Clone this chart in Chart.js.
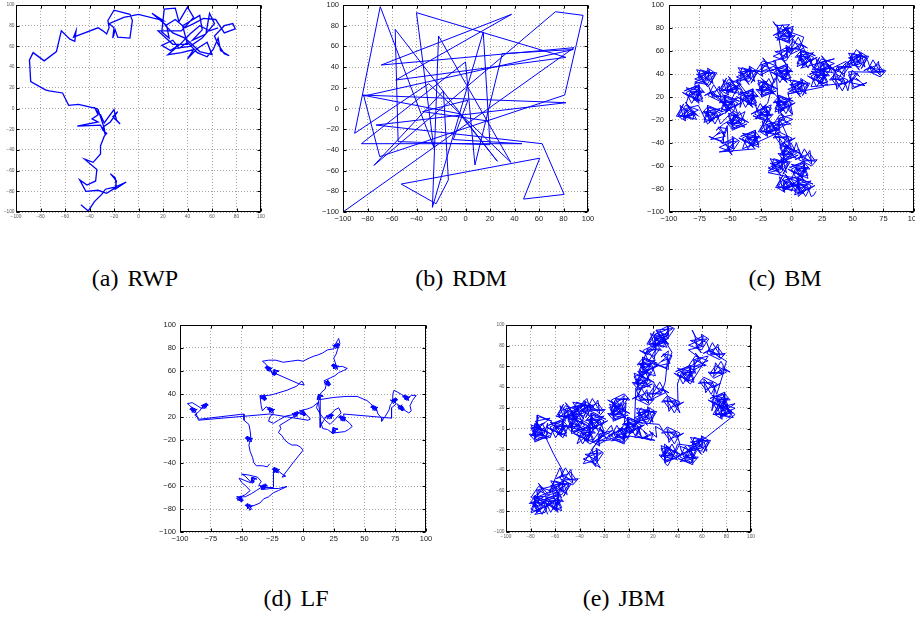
<!DOCTYPE html>
<html><head><meta charset="utf-8">
<script src="https://cdn.jsdelivr.net/npm/chart.js@4.4.0/dist/chart.umd.min.js"></script>
<style>
html,body{margin:0;padding:0;background:#fff;width:915px;height:617px;overflow:hidden;position:relative}
canvas{position:absolute}
.cap{position:absolute;font-family:"Liberation Serif","Times New Roman",serif;font-size:24px;line-height:24px;white-space:nowrap;color:#000;transform:translateX(-50%);word-spacing:3px}
</style></head><body>
<div class="cap" style="left:135px;top:266px">(a) RWP</div>
<div class="cap" style="left:461px;top:266px">(b) RDM</div>
<div class="cap" style="left:785px;top:266px">(c) BM</div>
<div class="cap" style="left:296px;top:586px">(d) LF</div>
<div class="cap" style="left:624px;top:586px">(e) JBM</div>
<script>
// ---------- tick values and labels ----------
const ticks20 = [-100,-80,-60,-40,-20,0,20,40,60,80,100];
const labels20 = ['\u2212100','\u221280','\u221260','\u221240','\u221220','0','20','40','60','80','100'];
const ticks25 = [-100,-75,-50,-25,0,25,50,75,100];
const labels25 = ['\u2212100','\u221275','\u221250','\u221225','0','25','50','75','100'];
const ticksNine = [-100,-77.78,-55.56,-33.33,-11.11,11.11,33.33,55.56,77.78,100];
const labelsNine = ['\u2212100','\u221280','\u221260','\u221240','\u221220','20','40','60','80','100'];

// ---------- (a) RWP ----------
const rwpPath = [
[-47,-93],[-41,-99],[-36,-90],[-30,-83],[-27,-78],[-23,-77],[-19,-76],[-10,-71],[-19,-78],[-18,-70],[-23,-63],[-19,-67],[-18,-76],[-26,-82],[-33,-79],[-43,-80],[-48,-69],[-42,-74],[-35,-70],[-34,-59],[-44,-49],[-37,-52],[-31,-44],[-31,-36],[-28,-27],[-26,-24],[-29,-21],[-31,-16],[-50,-17],[-33,-13],[-38,-10],[-33,-6],[-35,-1],[-31,-6],[-28,-14],[-20,-1],[-18,-11],[-15,-15],[-21,-8],[-17,-3],[-23,-13],[-29,-18],[-27,-26],[-28,-19],[-33,-1],[-34,0],[-49,4],[-57,3],[-62,15],[-73,17],[-76,18],[-88,26],[-89,47],[-86,54],[-77,46],[-67,55],[-63,75],[-56,67],[-52,65],[-51,75],[-53,69],[-33,78],[-29,75],[-26,72],[-24,78],[-25,85],[-20,95],[-7,91],[-5,85],[-7,68],[-17,69],[-19,76],[-21,68],[-20,78],[-24,82],[-12,88],[0,91],[20,85],[11,92],[23,80],[25,68],[19,74],
[21,96],[30,97],[33,84],[40,98],[45,88],[35,75],[16,75],[28,62],[40,62],[36,80],[50,90],[52,76],[44,66],[55,72],[58,92],[62,82],[52,68],[42,60],[30,58],[24,52],[35,54],[45,57],[40,48],[48,58],[56,64],[60,52],[50,55],[38,68],[28,73],[22,80],[30,86],[38,78],[45,82],[53,87],[63,86],[70,73],[79,77],[77,82],[70,80],[62,70],[65,62],[70,53],[74,51],[67,56],[65,68],[61,57],[56,50],[48,54],[40,64],[33,58],[28,66],[19,61],[26,56],[34,62],[42,72],[50,80],[58,75],[65,78]
];

// ---------- (b) RDM ----------
const rdmPath = [
[-100,-100],[88.6,58.8],[-68.8,42],[37.6,91],[-57,27.5],[82,49.4],[-40,92.6],[-26,-37],[-69.6,98.4],[-90.5,-24],[-30,24],[37,-52],[-22,70],[-27,-95.5],[14.5,74],[20,-35],[-55,-32],[-57.4,76.5],[26,-51],[-5,-5],[-84.5,13],[82,5.6],[-73,-16],[62.6,-34],[80.5,-83],[47.4,-87.5],[60.6,-48],[-52.5,-73],[-24,-92],[-14,-69],[-18,17],[-74.8,-55],[73.4,93.5],[96,90],[81,13],[-70,-46.5],[-83,12],[88,57],[30,53],[7.7,-54.6],[0,45],[-85,-34],[46,-34],[-10,-30],[2,8],[-35,-3],[18,-12]
];

// ---------- (c) BM ----------
const bmPath = [
[20,-80],[18,-84],
[16,-85],[13,-74.5],[2.5,-73],[7,-80.5],[19,-74.5],[13,-79],[5.5,-70],[7,-83.5],[13,-73],[1,-74.5],[5.5,-68.5],[16,-74.5],[11.5,-85],[5.5,-73],[14.5,-77.5],[2.5,-83.5],[5.5,-74.5],[10,-82],[2.5,-80.5],[7,-68.5],[17.5,-73],[5.5,-67],[5.5,-77.5],[11.5,-74.5],[8.5,-77.5],[16,-70],[4,-73],[8.5,-82],[11.5,-79],[5.5,-85],
[5,-66],[-5.5,-69],[-7,-79.5],[0.5,-75],[-5.5,-63],[-1,-69],[-10,-76.5],[3.5,-75],[-7,-69],[-5.5,-81],[-11.5,-76.5],[-5.5,-66],[5,-70.5],[-7,-76.5],[-2.5,-67.5],[3.5,-79.5],[-5.5,-76.5],[2,-72],[0.5,-79.5],[-11.5,-75],[-7,-64.5],[-13,-76.5],[-2.5,-76.5],[-5.5,-70.5],[-2.5,-73.5],[-10,-66],[-7,-78],[2,-73.5],[-1,-70.5],[5,-76.5],
[0,-69],[3,-58.5],[13.5,-57],[9,-64.5],[-3,-58.5],[3,-63],[10.5,-54],[9,-67.5],[3,-57],[15,-58.5],[10.5,-52.5],[0,-58.5],[4.5,-69],[10.5,-57],[1.5,-61.5],[13.5,-67.5],[10.5,-58.5],[6,-66],[13.5,-64.5],[9,-52.5],[-1.5,-57],[10.5,-51],[10.5,-61.5],[4.5,-58.5],[7.5,-61.5],[0,-54],[12,-57],[7.5,-66],[4.5,-63],[10.5,-69],
[-19,-62],[-8.5,-59],[-7,-48.5],[-14.5,-53],[-8.5,-65],[-13,-59],[-4,-51.5],[-17.5,-53],[-7,-59],[-8.5,-47],[-2.5,-51.5],[-8.5,-62],[-19,-57.5],[-7,-51.5],[-11.5,-60.5],[-17.5,-48.5],[-8.5,-51.5],[-16,-56],[-14.5,-48.5],[-2.5,-53],[-7,-63.5],[-1,-51.5],[-11.5,-51.5],[-8.5,-57.5],[-11.5,-54.5],[-4,-62],[-7,-50],[-16,-57.5],[-13,-57.5],[-19,-60.5],
[6,-39],[9,-49.5],[19.5,-51],[15,-43.5],[3,-49.5],[9,-45],[16.5,-54],[15,-40.5],[9,-51],[21,-49.5],[16.5,-55.5],[6,-49.5],[10.5,-39],[16.5,-51],[7.5,-46.5],
[4,-33],[1,-43.5],[-9.5,-45],[-5,-37.5],[7,-43.5],[1,-39],[-6.5,-48],[-5,-34.5],[1,-45],[-11,-43.5],[-6.5,-49.5],[4,-43.5],[-0.5,-33],[-6.5,-45],[2.5,-40.5],[-9.5,-34.5],[-6.5,-43.5],[-2,-36],[-9.5,-37.5],[-5,-49.5],[5.5,-45],[-6.5,-51],[-6.5,-40.5],[-0.5,-43.5],[-3.5,-40.5],[4,-48],[-8,-45],[-3.5,-36],[-0.5,-39],[-6.5,-33],
[0,-39],[-3,-28.5],[-13.5,-27],[-9,-34.5],[3,-28.5],[-3,-33],[-10.5,-24],[-9,-37.5],[-3,-27],[-15,-28.5],[-10.5,-22.5],[0,-28.5],[-4.5,-39],[-10.5,-27],[-1.5,-31.5],
[-9,-12],[-19.5,-15],[-21,-25.5],[-13.5,-21],[-19.5,-9],[-15,-15],[-24,-22.5],[-10.5,-21],[-21,-15],[-19.5,-27],[-25.5,-22.5],[-19.5,-12],[-9,-16.5],[-21,-22.5],[-16.5,-13.5],[-10.5,-25.5],[-19.5,-22.5],[-12,-18],[-13.5,-25.5],[-25.5,-21],[-21,-10.5],[-27,-22.5],[-16.5,-22.5],[-19.5,-16.5],[-16.5,-19.5],[-24,-12],[-21,-24],[-12,-19.5],[-15,-16.5],[-9,-22.5],
[-40,-39],[-37,-28.5],[-26.5,-27],[-31,-34.5],[-43,-28.5],[-37,-33],[-29.5,-24],[-31,-37.5],[-37,-27],[-25,-28.5],[-29.5,-22.5],[-40,-28.5],[-35.5,-39],[-29.5,-27],[-38.5,-31.5],[-26.5,-37.5],[-29.5,-28.5],[-34,-36],[-26.5,-34.5],[-31,-22.5],[-41.5,-27],[-29.5,-21],[-29.5,-31.5],[-35.5,-28.5],[-32.5,-31.5],[-40,-24],[-28,-27],[-32.5,-36],[-35.5,-33],[-29.5,-39],
[-59,-42],[-48.5,-39],[-47,-28.5],[-54.5,-33],[-48.5,-45],[-53,-39],[-44,-31.5],[-57.5,-33],[-47,-39],[-48.5,-27],[-42.5,-31.5],[-48.5,-42],[-59,-37.5],[-47,-31.5],[-51.5,-40.5],
[-52.5,-16.5],[-55.5,-25.5],[-60,-18],[-52.5,-19.5],[-57,-31.5],[-67.5,-27],[-55.5,-33],[-55.5,-22.5],[-61.5,-25.5],[-58.5,-22.5],[-66,-30],[-54,-27],[-58.5,-18],[-61.5,-21],[-55.5,-15],
[-38,-3],[-41,-13.5],[-51.5,-15],[-47,-7.5],[-35,-13.5],[-41,-9],[-48.5,-18],[-47,-4.5],[-41,-15],[-53,-13.5],[-48.5,-19.5],[-38,-13.5],[-42.5,-3],[-48.5,-15],[-39.5,-10.5],[-51.5,-4.5],[-48.5,-13.5],[-44,-6],[-51.5,-7.5],[-47,-19.5],[-36.5,-15],[-48.5,-21],[-48.5,-10.5],[-42.5,-13.5],[-45.5,-10.5],[-38,-18],[-50,-15],[-45.5,-6],[-42.5,-9],[-48.5,-3],
[-58,-15],[-61,-4.5],[-71.5,-3],[-67,-10.5],[-55,-4.5],[-61,-9],[-68.5,0],[-67,-13.5],[-61,-3],[-73,-4.5],[-68.5,1.5],[-58,-4.5],[-62.5,-15],[-68.5,-3],[-59.5,-7.5],[-71.5,-13.5],[-68.5,-4.5],[-64,-12],[-71.5,-10.5],[-67,1.5],[-56.5,-3],[-68.5,3],[-68.5,-7.5],[-62.5,-4.5],[-65.5,-7.5],[-58,0],[-70,-3],[-65.5,-12],[-62.5,-9],[-68.5,-15],
[-76,3],[-86.5,0],[-88,-10.5],[-80.5,-6],[-86.5,6],[-82,0],[-91,-7.5],[-77.5,-6],[-88,0],[-86.5,-12],[-92.5,-7.5],[-86.5,3],[-76,-1.5],[-88,-7.5],[-83.5,1.5],[-77.5,-10.5],[-86.5,-7.5],[-79,-3],[-80.5,-10.5],[-92.5,-6],[-88,4.5],[-94,-7.5],[-83.5,-7.5],[-86.5,-1.5],[-83.5,-4.5],[-91,3],[-88,-9],[-79,-4.5],[-82,-1.5],[-76,-7.5],
[-86,5],[-83,15.5],[-72.5,17],[-77,9.5],[-89,15.5],[-83,11],[-75.5,20],[-77,6.5],[-83,17],[-71,15.5],[-75.5,21.5],[-86,15.5],[-81.5,5],[-75.5,17],[-84.5,12.5],[-72.5,6.5],[-75.5,15.5],[-80,8],[-72.5,9.5],[-77,21.5],[-87.5,17],[-75.5,23],[-75.5,12.5],[-81.5,15.5],[-78.5,12.5],[-86,20],[-74,17],[-78.5,8],[-81.5,11],[-75.5,5],
[-79,24],[-68.5,27],[-67,37.5],[-74.5,33],[-68.5,21],[-73,27],[-64,34.5],[-77.5,33],[-67,27],[-68.5,39],[-62.5,34.5],[-68.5,24],[-79,28.5],[-67,34.5],[-71.5,25.5],[-77.5,37.5],[-68.5,34.5],[-76,30],[-74.5,37.5],[-62.5,33],[-67,22.5],[-61,34.5],[-71.5,34.5],[-68.5,28.5],[-71.5,31.5],[-64,24],[-67,36],[-76,28.5],[-73,28.5],[-79,25.5],
[-68,23],[-65,12.5],[-54.5,11],[-59,18.5],[-71,12.5],[-65,17],[-57.5,8],[-59,21.5],[-65,11],[-53,12.5],[-57.5,6.5],[-68,12.5],[-63.5,23],[-57.5,11],[-66.5,15.5],
[-44,-5],[-47,5.5],[-57.5,7],[-53,-0.5],[-41,5.5],[-47,1],[-54.5,10],[-53,-3.5],[-47,7],[-59,5.5],[-54.5,11.5],[-44,5.5],[-48.5,-5],[-54.5,7],[-45.5,2.5],[-57.5,-3.5],[-54.5,5.5],[-50,-2],[-57.5,-0.5],[-53,11.5],[-42.5,7],[-54.5,13],[-54.5,2.5],[-48.5,5.5],[-51.5,2.5],[-44,10],[-56,7],[-51.5,-2],[-48.5,1],[-54.5,-5],
[-41,28],[-51.5,25],[-53,14.5],[-45.5,19],[-51.5,31],[-47,25],[-56,17.5],[-42.5,19],[-53,25],[-51.5,13],[-57.5,17.5],[-51.5,28],[-41,23.5],[-53,17.5],[-48.5,26.5],[-42.5,14.5],[-51.5,17.5],[-44,22],[-45.5,14.5],[-57.5,19],[-53,29.5],[-59,17.5],[-48.5,17.5],[-51.5,23.5],[-48.5,20.5],[-56,28],[-53,16],[-44,20.5],[-47,23.5],[-41,17.5],
[-42,1],[-39,11.5],[-28.5,13],[-33,5.5],[-45,11.5],[-39,7],[-31.5,16],[-33,2.5],[-39,13],[-27,11.5],[-31.5,17.5],[-42,11.5],[-37.5,1],[-31.5,13],[-40.5,8.5],[-28.5,2.5],[-31.5,11.5],[-36,4],[-28.5,5.5],[-33,17.5],[-43.5,13],[-31.5,19],[-31.5,8.5],[-37.5,11.5],[-34.5,8.5],[-42,16],[-30,13],[-34.5,4],[-37.5,7],[-31.5,1],
[-45,26],[-34.5,29],[-33,39.5],[-40.5,35],[-34.5,23],[-39,29],[-30,36.5],[-43.5,35],[-33,29],[-34.5,41],[-28.5,36.5],[-34.5,26],[-45,30.5],[-33,36.5],[-37.5,27.5],[-43.5,39.5],[-34.5,36.5],[-42,32],[-40.5,39.5],[-28.5,35],[-33,24.5],[-27,36.5],[-37.5,36.5],[-34.5,30.5],[-37.5,33.5],[-30,26],[-33,38],[-42,30.5],[-39,30.5],[-45,27.5],
[-30,5],[-27,-5.5],[-16.5,-7],[-21,0.5],[-33,-5.5],[-27,-1],[-19.5,-10],[-21,3.5],[-27,-7],[-15,-5.5],[-19.5,-11.5],[-30,-5.5],[-25.5,5],[-19.5,-7],[-28.5,-2.5],[-16.5,3.5],[-19.5,-5.5],[-24,2],[-16.5,0.5],[-21,-11.5],[-31.5,-7],[-19.5,-13],[-19.5,-2.5],[-25.5,-5.5],[-22.5,-2.5],[-30,-10],[-18,-7],[-22.5,2],[-25.5,-1],[-19.5,5],
[-14,29],[-17,18.5],[-27.5,17],[-23,24.5],[-11,18.5],[-17,23],[-24.5,14],[-23,27.5],[-17,17],[-29,18.5],[-24.5,12.5],[-14,18.5],[-18.5,29],[-24.5,17],[-15.5,21.5],[-27.5,27.5],[-24.5,18.5],[-20,26],[-27.5,24.5],[-23,12.5],[-12.5,17],[-24.5,11],[-24.5,21.5],[-18.5,18.5],[-21.5,21.5],[-14,14],[-26,17],[-21.5,26],[-18.5,23],[-24.5,29],
[0,-5],[-3,5.5],[-13.5,7],[-9,-0.5],[3,5.5],[-3,1],[-10.5,10],[-9,-3.5],[-3,7],[-15,5.5],[-10.5,11.5],[0,5.5],[-4.5,-5],[-10.5,7],[-1.5,2.5],[-13.5,-3.5],[-10.5,5.5],[-6,-2],[-13.5,-0.5],[-9,11.5],[1.5,7],[-10.5,13],[-10.5,2.5],[-4.5,5.5],[-7.5,2.5],[0,10],[-12,7],[-7.5,-2],[-4.5,1],[-10.5,-5],
[-13,46],[-23.5,43],[-25,32.5],[-17.5,37],[-23.5,49],[-19,43],[-28,35.5],[-14.5,37],[-25,43],[-23.5,31],[-29.5,35.5],[-23.5,46],[-13,41.5],[-25,35.5],[-20.5,44.5],
[-14,25],[-11,35.5],[-0.5,37],[-5,29.5],[-17,35.5],[-11,31],[-3.5,40],[-5,26.5],[-11,37],[1,35.5],[-3.5,41.5],[-14,35.5],[-9.5,25],[-3.5,37],[-12.5,32.5],[-0.5,26.5],[-3.5,35.5],[-8,28],[-0.5,29.5],[-5,41.5],[-15.5,37],[-3.5,43],[-3.5,32.5],[-9.5,35.5],[-6.5,32.5],[-14,40],[-2,37],[-6.5,28],[-9.5,31],[-3.5,25],
[-15,46],[-4.5,49],[-3,59.5],[-10.5,55],[-4.5,43],[-9,49],[0,56.5],[-13.5,55],[-3,49],[-4.5,61],[1.5,56.5],[-4.5,46],[-15,50.5],[-3,56.5],[-7.5,47.5],
[-12,81],[-9,70.5],[1.5,69],[-3,76.5],[-15,70.5],[-9,75],[-1.5,66],[-3,79.5],[-9,69],[3,70.5],[-1.5,64.5],[-12,70.5],[-7.5,81],[-1.5,69],[-10.5,73.5],[1.5,79.5],[-1.5,70.5],[-6,78],[1.5,76.5],[-3,64.5],[-13.5,69],[-1.5,63],[-1.5,73.5],[-7.5,70.5],[-4.5,73.5],[-12,66],[0,69],[-4.5,78],[-7.5,75],[-1.5,81],
[-13,80],[-15,84],[-11,78],
[10,69],[7,58.5],[-3.5,57],[1,64.5],[13,58.5],[7,63],[-0.5,54],[1,67.5],[7,57],[-5,58.5],[-0.5,52.5],[10,58.5],[5.5,69],[-0.5,57],[8.5,61.5],
[18,39],[15,49.5],[4.5,51],[9,43.5],[21,49.5],[15,45],[7.5,54],[9,40.5],[15,51],[3,49.5],[7.5,55.5],[18,49.5],[13.5,39],[7.5,51],[16.5,46.5],[4.5,40.5],[7.5,49.5],[12,42],[4.5,43.5],[9,55.5],[19.5,51],[7.5,57],[7.5,46.5],[13.5,49.5],[10.5,46.5],[18,54],[6,51],[10.5,42],[13.5,45],[7.5,39],
[35,48],[24.5,45],[23,34.5],[30.5,39],[24.5,51],[29,45],[20,37.5],[33.5,39],[23,45],[24.5,33],[18.5,37.5],[24.5,48],[35,43.5],[23,37.5],[27.5,46.5],[33.5,34.5],[24.5,37.5],[32,42],[30.5,34.5],[18.5,39],[23,49.5],[17,37.5],[27.5,37.5],[24.5,43.5],[27.5,40.5],[20,48],[23,36],[32,40.5],[29,43.5],[35,37.5],
[34,29],[37,39.5],[47.5,41],[43,33.5],[31,39.5],[37,35],[44.5,44],[43,30.5],[37,41],[49,39.5],[44.5,45.5],[34,39.5],[38.5,29],[44.5,41],[35.5,36.5],
[45,40],[55.5,43],[57,53.5],[49.5,49],[55.5,37],[51,43],[60,50.5],[46.5,49],[57,43],[55.5,55],[61.5,50.5],[55.5,40],[45,44.5],[57,50.5],[52.5,41.5],[46.5,53.5],[55.5,50.5],[48,46],[49.5,53.5],[61.5,49],[57,38.5],[63,50.5],[52.5,50.5],[55.5,44.5],[52.5,47.5],[60,40],[57,52],[48,44.5],[51,44.5],[45,41.5],
[53,57],[56,53],
[62,47],[65,36.5],[75.5,35],[71,42.5],[59,36.5],[65,41],[72.5,32],[71,45.5],[65,35],[77,36.5],[72.5,30.5],[62,36.5],[66.5,47],[72.5,35],[63.5,39.5],[70,38],[76,37],[72,35],
[46.5,35.5],[49.5,26.5],[54,34],[46.5,32.5],[51,20.5],[61.5,25],[49.5,19],[49.5,29.5],[55.5,26.5],[52.5,29.5],[60,22],[48,25],[52.5,34],[55.5,31],[49.5,37],
[46,17],[43,27.5],[32.5,29],[37,21.5],[49,27.5],[43,23],[35.5,32],[37,18.5],[43,29],[31,27.5],[35.5,33.5],[46,27.5],[41.5,17],[35.5,29],[44.5,24.5],
[16,21],[19,31.5],[29.5,33],[25,25.5],[13,31.5],[19,27],[26.5,36],[25,22.5],[19,33],[31,31.5],[26.5,37.5],[16,31.5],[20.5,21],[26.5,33],[17.5,28.5],[29.5,22.5],[26.5,31.5],[22,24],[29.5,25.5],[25,37.5],[14.5,33],[26.5,39],[26.5,28.5],[20.5,31.5],[23.5,28.5],[16,36],[28,33],[23.5,24],[20.5,27],[26.5,21],
[-3,14],[7.5,17],[9,27.5],[1.5,23],[7.5,11],[3,17],[12,24.5],[-1.5,23],[9,17],[7.5,29],[13.5,24.5],[7.5,14],[-3,18.5],[9,24.5],[4.5,15.5],[-1.5,27.5],[7.5,24.5],[0,20],[1.5,27.5],[13.5,23],[9,12.5],[15,24.5],[4.5,24.5],[7.5,18.5],[4.5,21.5],[12,14],[9,26],[0,18.5],[3,18.5],[-3,15.5],
[1,-6],[-9.5,-9],[-11,-19.5],[-3.5,-15],[-9.5,-3],[-5,-9],[-14,-16.5],[-0.5,-15],[-11,-9],[-9.5,-21],[-15.5,-16.5],[-9.5,-6],[1,-10.5],[-11,-16.5],[-6.5,-7.5]
];

// ---------- (d) LF ----------
const lfPath = [
[-44,-79],
[-42,-78],[-43,-74.5],[-46.5,-74],[-45,-76.5],[-41,-74.5],[-43,-76],[-45.5,-73],[-45,-77.5],[-43,-74],[-47,-74.5],[-45.5,-72.5],[-42,-74.5],[-43.5,-78],[-45.5,-74],[-42.5,-75.5],
[-39,-74],[-35,-72],[-32,-68],[-28,-66],[-24,-62],[-20,-60],[-13,-56],[-20,-58],[-26,-58],
[-34,-59],[-33,-55.5],[-29.5,-55],[-31,-57.5],[-35,-55.5],[-33,-57],[-30.5,-54],[-31,-58.5],[-33,-55],[-29,-55.5],[-30.5,-53.5],[-34,-55.5],[-32.5,-59],[-30.5,-55],[-33.5,-56.5],
[-38,-60],[-42,-63],[-47,-66],
[-54,-66],[-50.5,-67],[-50,-70.5],[-52.5,-69],[-50.5,-65],[-52,-67],[-49,-69.5],[-53.5,-69],[-50,-67],[-50.5,-71],[-48.5,-69.5],[-50.5,-66],[-54,-67.5],[-50,-69.5],[-51.5,-66.5],
[-47,-64],[-43,-60],[-46,-56],[-50,-52],[-52,-48],
[-42.5,-52.5],[-41.5,-49.5],[-40,-52],[-42.5,-51.5],[-41,-47.5],[-37.5,-49],[-41.5,-47],[-41.5,-50.5],[-39.5,-49.5],[-40.5,-50.5],[-38,-48],[-42,-49],[-40.5,-52],[-39.5,-51],[-41.5,-53],
[-47,-46],[-50,-44],[-44,-45],[-37,-47],[-34,-51],[-36,-55],[-30,-57],[-24,-57],[-24,-48],[-24,-39],
[-20,-43],[-21,-39.5],[-24.5,-39],[-23,-41.5],[-19,-39.5],[-21,-41],[-23.5,-38],[-23,-42.5],[-21,-39],[-25,-39.5],[-23.5,-37.5],[-20,-39.5],[-21.5,-43],[-23.5,-39],[-20.5,-40.5],
[-17,-44],[-14,-46],[-17,-47],[-8,-33],[0,-21],
[-2,-18],[-5,-16],[-9,-16],[-12,-14],[-15,-11],[-17,-7],[-20,-4],[-18,0],[-19,3],
[-8,11],[-7,14.5],[-3.5,15],[-5,12.5],[-9,14.5],[-7,13],[-4.5,16],[-5,11.5],[-7,15],[-3,14.5],[-4.5,16.5],[-8,14.5],[-6.5,11],[-4.5,15],[-7.5,13.5],
[-14,12],[-20,8],[-24,5],[-28,7],[-27,11],
[-24,15],[-25,18.5],[-28.5,19],[-27,16.5],[-23,18.5],[-25,17],[-27.5,20],[-27,15.5],[-25,19],[-29,18.5],[-27.5,20.5],[-24,18.5],[-25.5,15],[-27.5,19],[-24.5,17.5],
[-30,21],[-33,17],[-34,22],
[-35,32],[-31.5,31],[-31,27.5],[-33.5,29],[-31.5,33],[-33,31],[-30,28.5],[-34.5,29],[-31,31],[-31.5,27],[-29.5,28.5],[-31.5,32],[-35,30.5],[-31,28.5],[-32.5,31.5],
[-28,32],[-24,33],[-13,37],[-5,41],[-1,46],[1,42],[-3,43],
[-26,55],[-27,58.5],[-30.5,59],[-29,56.5],[-25,58.5],[-27,57],[-29.5,60],[-29,55.5],[-27,59],[-31,58.5],[-29.5,60.5],[-26,58.5],[-27.5,55],[-29.5,59],[-26.5,57.5],
[-24.5,51.5],[-23.5,54.5],[-22,52],[-24.5,52.5],[-23,56.5],[-19.5,55],[-23.5,57],[-23.5,53.5],[-21.5,54.5],[-22.5,53.5],[-20,56],[-24,55],[-22.5,52],[-21.5,53],[-23.5,51],
[-30,62],[-33,65],[-28,66],[-22,66],[-16,64],[-10,65],[-4,66],[0,65],[5,68],[9,70],[12,71],[16,73],[20,76],
[25,77],[26,80.5],[29.5,81],[28,78.5],[24,80.5],[26,79],[28.5,82],[28,77.5],[26,81],[30,80.5],[28.5,82.5],[25,80.5],[26.5,77],[28.5,81],[25.5,79.5],
[28,85],[29,87],[30,82],[28,76],[27,72],[25,68],
[28,57],[27,60.5],[23.5,61],[25,58.5],[29,60.5],[27,59],[24.5,62],[25,57.5],[27,61],[23,60.5],[24.5,62.5],[28,60.5],[26.5,57],[24.5,61],[27.5,59.5],
[32,60],[36,58],[33,56],[29,54],[26,51],
[17,46],[20.5,45],[21,41.5],[18.5,43],[20.5,47],[19,45],[22,42.5],[17.5,43],[21,45],[20.5,41],[22.5,42.5],[20.5,46],[17,44.5],[21,42.5],[19.5,45.5],
[18,38],[15,35],
[11.5,27.5],[12.5,30.5],[14,28],[11.5,28.5],[13,32.5],[16.5,31],[12.5,33],[12.5,29.5],[14.5,30.5],[13.5,29.5],[16,32],[12,31],[13.5,28],[14.5,29],[12.5,27],
[14,10],[14,1],[15,5],[14,8],[14,28],
[25,30],[35,31],[44,31],[48,29],[52,27],[55,24],
[60,17],[59,20.5],[55.5,21],[57,18.5],[61,20.5],[59,19],[56.5,22],[57,17.5],[59,21],[55,20.5],[56.5,22.5],[60,20.5],[58.5,17],[56.5,21],[59.5,19.5],
[61,14],[64,10],[64,7],[67,12],[70,18],[71,23],
[72,24],[73,27.5],[76.5,28],[75,25.5],[71,27.5],[73,26],[75.5,29],[75,24.5],[73,28],[77,27.5],[75.5,29.5],[72,27.5],[73.5,24],[75.5,28],[72.5,26.5],
[73,33],[74,37],[77,35],[80,33],
[86,27],[85,30.5],[81.5,31],[83,28.5],[87,30.5],[85,29],[82.5,32],[83,27.5],[85,31],[81,30.5],[82.5,32.5],[86,30.5],[84.5,27],[82.5,31],[85.5,29.5],
[88,32],[92,32],[89,27],[87,22],[88,17],[86,15],
[77,22],[80.5,21],[81,17.5],[78.5,19],[80.5,23],[79,21],[82,18.5],[77.5,19],[81,21],[80.5,17],[82.5,18.5],[80.5,22],[77,20.5],[81,18.5],[79.5,21.5],
[76,24],[72,20],[72,14],[72,10],[33,14],
[34,7],[33,10.5],[29.5,11],[31,8.5],[35,10.5],[33,9],[30.5,12],[31,7.5],[33,11],[29,10.5],[30.5,12.5],[34,10.5],[32.5,7],[30.5,11],[33.5,9.5],
[38,5],[40,2],[37,-1],[34,-3],
[23.5,-4.5],[24.5,-1.5],[26,-4],[23.5,-3.5],[25,0.5],[28.5,-1],[24.5,1],[24.5,-2.5],[26.5,-1.5],[25.5,-2.5],[28,0],[24,-1],[25.5,-4],[26.5,-3],[24.5,-5],
[20,-1],[16,0],[15,4],[17,8],[19,12],
[20,9],[21,12.5],[24.5,13],[23,10.5],[19,12.5],[21,11],[23.5,14],[23,9.5],[21,13],[25,12.5],[23.5,14.5],[20,12.5],[21.5,9],[23.5,13],[20.5,11.5],
[26,18],[29,20],[31,15],[27,10],[22,4],[18,8],[14,14],[11,20],[12,25],[8,21],[4,19],
[-3,17],[0.5,16],[1,12.5],[-1.5,14],[0.5,18],[-1,16],[2,13.5],[-2.5,14],[1,16],[0.5,12],[2.5,13.5],[0.5,17],[-3,15.5],[1,13.5],[-0.5,16.5],
[4,12],[6,9],[4,8],[-27,14],[-56,11],[-85,8],
[-87,15],[-88,18.5],[-91.5,19],[-90,16.5],[-86,18.5],[-88,17],[-90.5,20],[-90,15.5],[-88,19],[-92,18.5],[-90.5,20.5],[-87,18.5],[-88.5,15],[-90.5,19],[-87.5,17.5],
[-92,22],[-94,24],[-90,25],[-86,22],
[-82,19],[-81,22.5],[-77.5,23],[-79,20.5],[-83,22.5],[-81,21],[-78.5,24],[-79,19.5],[-81,23],[-77,22.5],[-78.5,24.5],[-82,22.5],[-80.5,19],[-78.5,23],[-81.5,21.5],
[-84,17],[-88,13],[-84,9],[-48,14],[-48,8],[-44,4],[-43,-2],
[-42,-13],[-43,-9.5],[-46.5,-9],[-45,-11.5],[-41,-9.5],[-43,-11],[-45.5,-8],[-45,-12.5],[-43,-9],[-47,-9.5],[-45.5,-7.5],[-42,-9.5],[-43.5,-13],[-45.5,-9],[-42.5,-10.5],
[-44,-16],[-43,-22],[-41,-28],[-40,-33],[-38,-36],[-33,-36],[-29,-37],[-27,-34]
];

// ---------- (e) JBM ----------
const jbmPath = [
[-66,-83],[-69,-72.5],[-79.5,-71],[-75,-78.5],[-63,-72.5],[-69,-77],[-76.5,-68],[-75,-81.5],[-69,-71],[-81,-72.5],[-76.5,-66.5],[-66,-72.5],[-70.5,-83],[-76.5,-71],[-67.5,-75.5],[-79.5,-81.5],[-76.5,-72.5],[-72,-80],[-79.5,-78.5],[-75,-66.5],[-64.5,-71],[-76.5,-65],[-76.5,-75.5],[-70.5,-72.5],[-73.5,-75.5],[-66,-68],[-78,-71],[-73.5,-80],[-70.5,-77],[-76.5,-83],
[-68,-81],[-65,-70.5],[-54.5,-69],[-59,-76.5],[-71,-70.5],[-65,-75],[-57.5,-66],[-59,-79.5],[-65,-69],[-53,-70.5],[-57.5,-64.5],[-68,-70.5],[-63.5,-81],[-57.5,-69],[-66.5,-73.5],[-54.5,-79.5],[-57.5,-70.5],[-62,-78],[-54.5,-76.5],[-59,-64.5],[-69.5,-69],[-57.5,-63],[-57.5,-73.5],[-63.5,-70.5],[-60.5,-73.5],[-68,-66],[-56,-69],[-60.5,-78],[-63.5,-75],[-57.5,-81],
[-63,-56],[-73.5,-59],[-75,-69.5],[-67.5,-65],[-73.5,-53],[-69,-59],[-78,-66.5],[-64.5,-65],[-75,-59],[-73.5,-71],[-79.5,-66.5],[-73.5,-56],[-63,-60.5],[-75,-66.5],[-70.5,-57.5],
[-65,-64],[-54.5,-61],[-53,-50.5],[-60.5,-55],[-54.5,-67],[-59,-61],[-50,-53.5],[-63.5,-55],[-53,-61],[-54.5,-49],[-48.5,-53.5],[-54.5,-64],[-65,-59.5],[-53,-53.5],[-57.5,-62.5],[-63.5,-50.5],[-54.5,-53.5],[-62,-58],[-60.5,-50.5],[-48.5,-55],[-53,-65.5],[-47,-53.5],[-57.5,-53.5],[-54.5,-59.5],[-57.5,-56.5],[-50,-64],[-53,-52],[-62,-59.5],[-59,-59.5],[-65,-62.5],
[-56,-38],[-53,-48.5],[-42.5,-50],[-47,-42.5],[-59,-48.5],[-53,-44],[-45.5,-53],[-47,-39.5],[-53,-50],[-41,-48.5],[-45.5,-54.5],[-56,-48.5],[-51.5,-38],[-45.5,-50],[-54.5,-45.5],
[-54,-40],[-61,-25],[-67,-10],
[-66,5],[-69,-5.5],[-79.5,-7],[-75,0.5],[-63,-5.5],[-69,-1],[-76.5,-10],[-75,3.5],[-69,-7],[-81,-5.5],[-76.5,-11.5],[-66,-5.5],[-70.5,5],[-76.5,-7],[-67.5,-2.5],[-79.5,3.5],[-76.5,-5.5],[-72,2],[-79.5,0.5],[-75,-11.5],[-64.5,-7],[-76.5,-13],[-76.5,-2.5],[-70.5,-5.5],[-73.5,-2.5],[-66,-10],[-78,-7],[-73.5,2],[-70.5,-1],[-76.5,5],
[-77.5,-3.5],[-74.5,5.5],[-70,-2],[-77.5,-0.5],[-73,11.5],[-62.5,7],[-74.5,13],[-74.5,2.5],[-68.5,5.5],[-71.5,2.5],[-64,10],[-76,7],[-71.5,-2],[-68.5,1],[-74.5,-5],
[-64,-9],[-61,1.5],[-50.5,3],[-55,-4.5],[-67,1.5],[-61,-3],[-53.5,6],[-55,-7.5],[-61,3],[-49,1.5],[-53.5,7.5],[-64,1.5],[-59.5,-9],[-53.5,3],[-62.5,-1.5],[-50.5,-7.5],[-53.5,1.5],[-58,-6],[-50.5,-4.5],[-55,7.5],[-65.5,3],[-53.5,9],[-53.5,-1.5],[-59.5,1.5],[-56.5,-1.5],[-64,6],[-52,3],[-56.5,-6],[-59.5,-3],[-53.5,-9],
[-41,22],[-51.5,19],[-53,8.5],[-45.5,13],[-51.5,25],[-47,19],[-56,11.5],[-42.5,13],[-53,19],[-51.5,7],[-57.5,11.5],[-51.5,22],[-41,17.5],[-53,11.5],[-48.5,20.5],[-42.5,8.5],[-51.5,11.5],[-44,16],[-45.5,8.5],[-57.5,13],[-53,23.5],[-59,11.5],[-48.5,11.5],[-51.5,17.5],[-48.5,14.5],[-56,22],[-53,10],[-44,14.5],[-47,17.5],[-41,11.5],
[-47,12],[-36.5,15],[-35,25.5],[-42.5,21],[-36.5,9],[-41,15],[-32,22.5],[-45.5,21],[-35,15],[-36.5,27],[-30.5,22.5],[-36.5,12],[-47,16.5],[-35,22.5],[-39.5,13.5],[-45.5,25.5],[-36.5,22.5],[-44,18],[-42.5,25.5],[-30.5,21],[-35,10.5],[-29,22.5],[-39.5,22.5],[-36.5,16.5],[-39.5,19.5],[-32,12],[-35,24],[-44,16.5],[-41,16.5],[-47,13.5],
[-34,29],[-31,18.5],[-20.5,17],[-25,24.5],[-37,18.5],[-31,23],[-23.5,14],[-25,27.5],[-31,17],[-19,18.5],[-23.5,12.5],[-34,18.5],[-29.5,29],[-23.5,17],[-32.5,21.5],
[-36,13],[-39,2.5],[-49.5,1],[-45,8.5],[-33,2.5],[-39,7],[-46.5,-2],[-45,11.5],[-39,1],[-51,2.5],[-46.5,-3.5],[-36,2.5],[-40.5,13],[-46.5,1],[-37.5,5.5],[-49.5,11.5],[-46.5,2.5],[-42,10],[-49.5,8.5],[-45,-3.5],[-34.5,1],[-46.5,-5],[-46.5,5.5],[-40.5,2.5],[-43.5,5.5],[-36,-2],[-48,1],[-43.5,10],[-40.5,7],[-46.5,13],
[-20,-3],[-23,7.5],[-33.5,9],[-29,1.5],[-17,7.5],[-23,3],[-30.5,12],[-29,-1.5],[-23,9],[-35,7.5],[-30.5,13.5],[-20,7.5],[-24.5,-3],[-30.5,9],[-21.5,4.5],[-33.5,-1.5],[-30.5,7.5],[-26,0],[-33.5,1.5],[-29,13.5],[-18.5,9],[-30.5,15],[-30.5,4.5],[-24.5,7.5],[-27.5,4.5],[-20,12],[-32,9],[-27.5,0],[-24.5,3],[-30.5,-3],
[-42,-15],[-39,-4.5],[-28.5,-3],[-33,-10.5],[-45,-4.5],[-39,-9],[-31.5,0],[-33,-13.5],[-39,-3],[-27,-4.5],[-31.5,1.5],[-42,-4.5],[-37.5,-15],[-31.5,-3],[-40.5,-7.5],[-28.5,-13.5],[-31.5,-4.5],[-36,-12],[-28.5,-10.5],[-33,1.5],[-43.5,-3],[-31.5,3],[-31.5,-7.5],[-37.5,-4.5],[-34.5,-7.5],[-42,0],[-30,-3],[-34.5,-12],[-37.5,-9],[-31.5,-15],
[-13,-2],[-23.5,-5],[-25,-15.5],[-17.5,-11],[-23.5,1],[-19,-5],[-28,-12.5],[-14.5,-11],[-25,-5],[-23.5,-17],[-29.5,-12.5],[-23.5,-2],[-13,-6.5],[-25,-12.5],[-20.5,-3.5],
[-37,-34],[-26.5,-31],[-25,-20.5],[-32.5,-25],[-26.5,-37],[-31,-31],[-22,-23.5],[-35.5,-25],[-25,-31],[-26.5,-19],[-20.5,-23.5],[-26.5,-34],[-37,-29.5],[-25,-23.5],[-29.5,-32.5],[-23,-38],[-27,-30],[-30,-20],
[-14,3],[-11,-7.5],[-0.5,-9],[-5,-1.5],[-17,-7.5],[-11,-3],[-3.5,-12],[-5,1.5],[-11,-9],[1,-7.5],[-3.5,-13.5],[-14,-7.5],[-9.5,3],[-3.5,-9],[-12.5,-4.5],[-0.5,1.5],[-3.5,-7.5],[-8,0],[-0.5,-1.5],[-5,-13.5],[-15.5,-9],[-3.5,-15],[-3.5,-4.5],[-9.5,-7.5],[-6.5,-4.5],[-14,-12],[-2,-9],[-6.5,0],[-9.5,-3],[-3.5,3],
[-2,25],[-5,14.5],[-15.5,13],[-11,20.5],[1,14.5],[-5,19],[-12.5,10],[-11,23.5],[-5,13],[-17,14.5],[-12.5,8.5],[-2,14.5],[-6.5,25],[-12.5,13],[-3.5,17.5],[-15.5,23.5],[-12.5,14.5],[-8,22],[-15.5,20.5],[-11,8.5],[-0.5,13],[-12.5,7],[-12.5,17.5],[-6.5,14.5],[-9.5,17.5],[-2,10],[-14,13],[-9.5,22],[-6.5,19],[-12.5,25],
[-14,17],[-11,27.5],[-0.5,29],[-5,21.5],[-17,27.5],[-11,23],[-3.5,32],[-5,18.5],[-11,29],[1,27.5],[-3.5,33.5],[-14,27.5],[-9.5,17],[-3.5,29],[-12.5,24.5],
[10,-7],[7,3.5],[-3.5,5],[1,-2.5],[13,3.5],[7,-1],[-0.5,8],[1,-5.5],[7,5],[-5,3.5],[-0.5,9.5],[10,3.5],[5.5,-7],[-0.5,5],[8.5,0.5],[-3.5,-5.5],[-0.5,3.5],[4,-4],[-3.5,-2.5],[1,9.5],[11.5,5],[-0.5,11],[-0.5,0.5],[5.5,3.5],[2.5,0.5],[10,8],[-2,5],[2.5,-4],[5.5,-1],[-0.5,-7],
[21.5,-11.5],[12.5,-8.5],[20,-4],[18.5,-11.5],[6.5,-7],[11,3.5],[5,-8.5],[15.5,-8.5],[12.5,-2.5],[15.5,-5.5],[8,2],[11,-10],[20,-5.5],[17,-2.5],[23,-8.5],[22,2],[28,-2],[25,4],
[5,6],[15.5,9],[17,19.5],[9.5,15],[15.5,3],[11,9],[20,16.5],[6.5,15],[17,9],[15.5,21],[21.5,16.5],[15.5,6],[5,10.5],[17,16.5],[12.5,7.5],[6.5,19.5],[15.5,16.5],[8,12],[9.5,19.5],[21.5,15],[17,4.5],[23,16.5],[12.5,16.5],[15.5,10.5],[12.5,13.5],[20,6],[17,18],[8,10.5],[11,10.5],[5,7.5],
[6,39],[9,28.5],[19.5,27],[15,34.5],[3,28.5],[9,33],[16.5,24],[15,37.5],[9,27],[21,28.5],[16.5,22.5],[6,28.5],[10.5,39],[16.5,27],[7.5,31.5],
[18,55],[15,44.5],[4.5,43],[9,50.5],[21,44.5],[15,49],[7.5,40],[9,53.5],[15,43],[3,44.5],[7.5,38.5],[18,44.5],[13.5,55],[7.5,43],[16.5,47.5],[4.5,53.5],[7.5,44.5],[12,52],[4.5,50.5],[9,38.5],[19.5,43],[7.5,37],[7.5,47.5],[13.5,44.5],[10.5,47.5],[18,40],[6,43],[10.5,52],[13.5,49],[7.5,55],
[22,51],[19,61.5],[8.5,63],[13,55.5],[25,61.5],[19,57],[11.5,66],[13,52.5],[19,63],[7,61.5],[11.5,67.5],[22,61.5],[17.5,51],[11.5,63],[20.5,58.5],[8.5,52.5],[11.5,61.5],[16,54],[8.5,55.5],[13,67.5],[23.5,63],[11.5,69],[11.5,58.5],[17.5,61.5],[14.5,58.5],[22,66],[10,63],[14.5,54],[17.5,57],[11.5,51],
[12,65],[15,75.5],[25.5,77],[21,69.5],[9,75.5],[15,71],[22.5,80],[21,66.5],[15,77],[27,75.5],[22.5,81.5],[12,75.5],[16.5,65],[22.5,77],[13.5,72.5],
[33,92],[22.5,89],[21,78.5],[28.5,83],[22.5,95],[27,89],[18,81.5],[31.5,83],[21,89],[22.5,77],[16.5,81.5],[22.5,92],[33,87.5],[21,81.5],[25.5,90.5],[31.5,78.5],[22.5,81.5],[30,86],[28.5,78.5],[16.5,83],[21,93.5],[15,81.5],[25.5,81.5],[22.5,87.5],[25.5,84.5],[18,92],[21,80],[30,84.5],[27,87.5],[33,81.5],
[21,86],[31.5,89],[33,99.5],[25.5,95],[31.5,83],[27,89],[36,96.5],[22.5,95],[33,89],[31.5,100],[37.5,96.5],[31.5,86],[21,90.5],[33,96.5],[28.5,87.5],
[35.5,73.5],[32.5,64.5],[28,72],[35.5,70.5],[31,58.5],[20.5,63],[32.5,57],[32.5,67.5],[26.5,64.5],[29.5,67.5],[22,60],[34,63],[29.5,72],[26.5,69],[32.5,75],
[30,45],[27,34.5],[16.5,33],[21,40.5],[33,34.5],[27,39],[19.5,30],[21,43.5],[27,33],[15,34.5],[19.5,28.5],[30,34.5],[25.5,45],[19.5,33],[28.5,37.5],
[42,15],[39,25.5],[28.5,27],[33,19.5],[45,25.5],[39,21],[31.5,30],[33,16.5],[39,27],[27,25.5],[31.5,31.5],[42,25.5],[37.5,15],[31.5,27],[40.5,22.5],
[40,43],[43,53.5],[53.5,55],[49,47.5],[37,53.5],[43,49],[50.5,58],[49,44.5],[43,55],[55,53.5],[50.5,59.5],[40,53.5],[44.5,43],[50.5,55],[41.5,50.5],[53.5,44.5],[50.5,53.5],[46,46],[53.5,47.5],[49,59.5],[38.5,55],[50.5,61],[50.5,50.5],[44.5,53.5],[47.5,50.5],[40,58],[52,55],[47.5,46],[44.5,49],[50.5,43],
[65,70],[54.5,67],[53,56.5],[60.5,61],[54.5,73],[59,67],[50,59.5],[63.5,61],[53,67],[54.5,55],[48.5,59.5],[54.5,70],[65,65.5],[53,59.5],[57.5,68.5],
[49,76],[59.5,79],[61,89.5],[53.5,85],[59.5,73],[55,79],[64,86.5],[50.5,85],[61,79],[59.5,91],[65.5,86.5],[59.5,76],[49,80.5],[61,86.5],[56.5,77.5],[54,90],[52,95],[55,88],
[64,83],[67,72.5],[77.5,71],[73,78.5],[61,72.5],[67,77],[74.5,68],[73,81.5],[67,71],[79,72.5],[74.5,66.5],[64,72.5],[68.5,83],[74.5,71],[65.5,75.5],
[80,65],[77,54.5],[66.5,53],[71,60.5],[83,54.5],[77,59],[69.5,50],[71,63.5],[77,53],[65,54.5],[69.5,48.5],[80,54.5],[75.5,65],[69.5,53],[78.5,57.5],
[72,33],[69,43.5],[58.5,45],[63,37.5],[75,43.5],[69,39],[61.5,48],[63,34.5],[69,45],[57,43.5],[61.5,49.5],[72,43.5],[67.5,33],[61.5,45],[70.5,40.5],
[68,17],[71,27.5],[81.5,29],[77,21.5],[65,27.5],[71,23],[78.5,32],[77,18.5],[71,29],[83,27.5],[78.5,33.5],[68,27.5],[72.5,17],[78.5,29],[69.5,24.5],[81.5,18.5],[78.5,27.5],[74,20],[81.5,21.5],[77,33.5],[66.5,29],[78.5,35],[78.5,24.5],[72.5,27.5],[75.5,24.5],[68,32],[80,29],[75.5,20],[72.5,23],[78.5,17],
[87,24],[76.5,21],[75,10.5],[82.5,15],[76.5,27],[81,21],[72,13.5],[85.5,15],[75,21],[76.5,9],[70.5,13.5],[76.5,24],[87,19.5],[75,13.5],[79.5,22.5],[85.5,10.5],[76.5,13.5],[84,18],[82.5,10.5],[70.5,15],[75,25.5],[69,13.5],[79.5,13.5],[76.5,19.5],[79.5,16.5],[72,24],[75,12],[84,16.5],[81,19.5],[87,13.5],
[49,-22],[59.5,-19],[61,-8.5],[53.5,-13],[59.5,-25],[55,-19],[64,-11.5],[50.5,-13],[61,-19],[59.5,-7],[65.5,-11.5],[59.5,-22],[49,-17.5],[61,-11.5],[56.5,-20.5],[50.5,-8.5],[59.5,-11.5],[52,-16],[53.5,-8.5],[65.5,-13],[61,-23.5],[67,-11.5],[56.5,-11.5],[59.5,-17.5],[56.5,-14.5],[64,-22],[61,-10],[52,-17.5],[55,-17.5],[49,-20.5],
[42,-17],[45,-27.5],[55.5,-29],[51,-21.5],[39,-27.5],[45,-23],[52.5,-32],[51,-18.5],[45,-29],[57,-27.5],[52.5,-33.5],[42,-27.5],[46.5,-17],[52.5,-29],[43.5,-24.5],[55.5,-18.5],[52.5,-27.5],[48,-20],[55.5,-21.5],[51,-33.5],[40.5,-29],[52.5,-35],[52.5,-24.5],[46.5,-27.5],[49.5,-24.5],[42,-32],[54,-29],[49.5,-20],[46.5,-23],[52.5,-17],
[40,-15],[37,-25.5],[26.5,-27],[31,-19.5],[43,-25.5],[37,-21],[29.5,-30],[31,-16.5],[37,-27],[25,-25.5],[29.5,-31.5],[40,-25.5],[35.5,-15],[29.5,-27],[38.5,-22.5],[26.5,-16.5],[29.5,-25.5],[34,-18],[26.5,-19.5],[31,-31.5],[41.5,-27],[29.5,-33],[29.5,-22.5],[35.5,-25.5],[32.5,-22.5],[40,-30],[28,-27],[32.5,-18],[35.5,-21],[29.5,-15],[30,-34],[32,-36],
[42,-15],[39,-4.5],[28.5,-3],[33,-10.5],[45,-4.5],[39,-9],[31.5,0],[33,-13.5],[39,-3],[27,-4.5],[31.5,1.5],[42,-4.5],[37.5,-15],[31.5,-3],[40.5,-7.5]
];

// ---------- rendering ----------
const frame = {
  id: 'frame',
  afterDraw(chart) {
    const {ctx, chartArea: a, scales: {x, y}} = chart;
    const len = 3;
    ctx.save();
    ctx.strokeStyle = '#000';
    ctx.lineWidth = 1;
    const L = Math.round(a.left) + 0.5, R = Math.round(a.right) - 0.5;
    const T = Math.round(a.top) + 0.5, B = Math.round(a.bottom) - 0.5;
    ctx.beginPath();
    x.ticks.forEach(t => { const p = Math.round(x.getPixelForValue(t.value)) + 0.5; ctx.moveTo(p, B); ctx.lineTo(p, B - len); ctx.moveTo(p, T); ctx.lineTo(p, T + len); });
    y.ticks.forEach(t => { const p = Math.round(y.getPixelForValue(t.value)) + 0.5; ctx.moveTo(L, p); ctx.lineTo(L + len, p); ctx.moveTo(R, p); ctx.lineTo(R - len, p); });
    ctx.stroke();
    ctx.strokeRect(L, T, R - L, B - T);
    ctx.restore();
  }
};

function axis(isX, tv, tl, fontSize, pad, size, color) {
  return {
    type: 'linear', min: -100, max: 100,
    afterBuildTicks: s => { s.ticks = tv.map(v => ({value: v})); },
    afterFit: s => {
      if (isX) s.height = size; else s.width = size;
      s.paddingLeft = 0; s.paddingRight = 0; s.paddingTop = 0; s.paddingBottom = 0;
    },
    ticks: { autoSkip: false, maxRotation: 0, minRotation: 0, padding: pad, color: color,
      font: { family: '"Liberation Sans", Arial, sans-serif', size: fontSize },
      callback: (v, i) => tl[i] },
    grid: { color: '#a6a6a6', lineWidth: 1, drawTicks: false },
    border: { display: false, dash: [1, 2] }
  };
}

function panel(c) {
  const w = c.R - c.L + c.padL + c.padR, h = c.B - c.T + c.padT + c.padB;
  const cv = document.createElement('canvas');
  cv.width = w; cv.height = h;
  cv.style.left = (c.L - c.padL) + 'px'; cv.style.top = (c.T - c.padT) + 'px';
  cv.style.width = w + 'px'; cv.style.height = h + 'px';
  document.body.appendChild(cv);
  new Chart(cv, {
    type: 'scatter',
    data: { datasets: [{ data: c.path.map(p => ({x: p[0], y: p[1]})), showLine: true, pointRadius: 0, pointHoverRadius: 0,
      borderColor: '#0000ff', borderWidth: c.lw, tension: 0, fill: false }] },
    options: {
      responsive: false, animation: false, devicePixelRatio: 1,
      layout: { padding: { left: 0, top: c.padT, right: c.padR, bottom: 0 } },
      plugins: { legend: { display: false }, tooltip: { enabled: false } },
      scales: {
        x: axis(true, c.xt, c.xl, c.fs, c.xpad, c.padB, c.col),
        y: axis(false, c.yt, c.yl, c.fs, c.ypad, c.padL, c.col)
      }
    },
    plugins: [frame]
  });
}

panel({path: rwpPath, L:16, T:5, R:261, B:212, padL:16, padT:5, padR:10, padB:14, xt:ticks20, xl:labels20, yt:ticks20, yl:labels20, fs:4.8, xpad:2, ypad:1.5, col:'#555', lw:1.3});
panel({path: rdmPath, L:343, T:5, R:588, B:212, padL:30, padT:5, padR:12, padB:16, xt:ticks20, xl:labels20, yt:ticks20, yl:labels20, fs:7.5, xpad:2, ypad:4, col:'#222', lw:1});
panel({path: bmPath, L:669, T:5, R:914, B:212, padL:30, padT:5, padR:12, padB:16, xt:ticks25, xl:labels25, yt:ticksNine, yl:labelsNine, fs:7.5, xpad:2, ypad:5, col:'#222', lw:1});
panel({path: lfPath, L:180, T:325, R:426, B:532, padL:30, padT:8, padR:12, padB:16, xt:ticks25, xl:labels25, yt:ticksNine, yl:labelsNine, fs:7.5, xpad:2, ypad:4, col:'#222', lw:1});
panel({path: jbmPath, L:506, T:325, R:751, B:532, padL:20, padT:8, padR:10, padB:14, xt:ticks20, xl:labels20, yt:ticks20, yl:labels20, fs:4.8, xpad:2, ypad:1.5, col:'#555', lw:1});
</script>
</body></html>
